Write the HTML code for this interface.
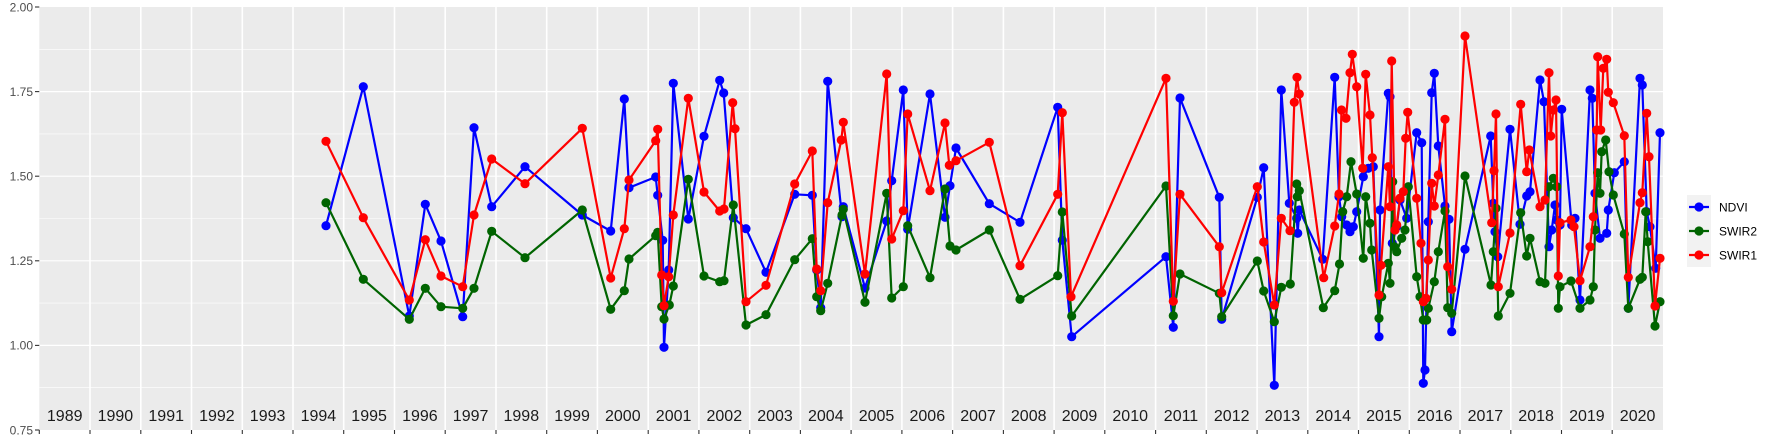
<!DOCTYPE html>
<html><head><meta charset="utf-8"><style>
html,body{margin:0;padding:0;background:#fff;}
svg{display:block;font-family:"Liberation Sans",sans-serif;}
</style></head><body>
<svg width="1773" height="442" viewBox="0 0 1773 442" xmlns="http://www.w3.org/2000/svg">
<defs>
<marker id="mb" markerUnits="userSpaceOnUse" markerWidth="12" markerHeight="12" refX="6" refY="6"><circle cx="6" cy="6" r="4.6" fill="#0000ff"/></marker>
<marker id="mg" markerUnits="userSpaceOnUse" markerWidth="12" markerHeight="12" refX="6" refY="6"><circle cx="6" cy="6" r="4.6" fill="#006400"/></marker>
<marker id="mr" markerUnits="userSpaceOnUse" markerWidth="12" markerHeight="12" refX="6" refY="6"><circle cx="6" cy="6" r="4.6" fill="#ff0000"/></marker>
</defs>
<rect x="39.3" y="7" width="1623.7" height="423" fill="#ebebeb"/>
<g stroke="#fff">
<g stroke-width="0.6">
<line x1="39.3" x2="1663" y1="49.3" y2="49.3"/><line x1="39.3" x2="1663" y1="133.9" y2="133.9"/><line x1="39.3" x2="1663" y1="218.5" y2="218.5"/><line x1="39.3" x2="1663" y1="303.1" y2="303.1"/><line x1="39.3" x2="1663" y1="387.7" y2="387.7"/>
</g>
<g stroke-width="1.2">
<line x1="39.3" x2="1663" y1="91.6" y2="91.6"/><line x1="39.3" x2="1663" y1="176.2" y2="176.2"/><line x1="39.3" x2="1663" y1="260.8" y2="260.8"/><line x1="39.3" x2="1663" y1="345.4" y2="345.4"/>
</g>
<g id="vl" stroke-width="1.6"></g>
</g>
<g stroke="#fff" stroke-width="1.6">
<line x1="90.0" x2="90.0" y1="7" y2="430"/><line x1="140.8" x2="140.8" y1="7" y2="430"/><line x1="191.5" x2="191.5" y1="7" y2="430"/><line x1="242.3" x2="242.3" y1="7" y2="430"/><line x1="293.0" x2="293.0" y1="7" y2="430"/><line x1="343.7" x2="343.7" y1="7" y2="430"/><line x1="394.5" x2="394.5" y1="7" y2="430"/><line x1="445.2" x2="445.2" y1="7" y2="430"/><line x1="496.0" x2="496.0" y1="7" y2="430"/><line x1="546.7" x2="546.7" y1="7" y2="430"/><line x1="597.4" x2="597.4" y1="7" y2="430"/><line x1="648.2" x2="648.2" y1="7" y2="430"/><line x1="698.9" x2="698.9" y1="7" y2="430"/><line x1="749.7" x2="749.7" y1="7" y2="430"/><line x1="800.4" x2="800.4" y1="7" y2="430"/><line x1="851.1" x2="851.1" y1="7" y2="430"/><line x1="901.9" x2="901.9" y1="7" y2="430"/><line x1="952.6" x2="952.6" y1="7" y2="430"/><line x1="1003.4" x2="1003.4" y1="7" y2="430"/><line x1="1054.1" x2="1054.1" y1="7" y2="430"/><line x1="1104.8" x2="1104.8" y1="7" y2="430"/><line x1="1155.6" x2="1155.6" y1="7" y2="430"/><line x1="1206.3" x2="1206.3" y1="7" y2="430"/><line x1="1257.1" x2="1257.1" y1="7" y2="430"/><line x1="1307.8" x2="1307.8" y1="7" y2="430"/><line x1="1358.5" x2="1358.5" y1="7" y2="430"/><line x1="1409.3" x2="1409.3" y1="7" y2="430"/><line x1="1460.0" x2="1460.0" y1="7" y2="430"/><line x1="1510.8" x2="1510.8" y1="7" y2="430"/><line x1="1561.5" x2="1561.5" y1="7" y2="430"/><line x1="1612.2" x2="1612.2" y1="7" y2="430"/>
</g>
<g stroke="#333" stroke-width="1.1">
<line x1="35" x2="39.3" y1="7" y2="7"/><line x1="35" x2="39.3" y1="91.6" y2="91.6"/><line x1="35" x2="39.3" y1="176.2" y2="176.2"/><line x1="35" x2="39.3" y1="260.8" y2="260.8"/><line x1="35" x2="39.3" y1="345.4" y2="345.4"/><line x1="35" x2="39.3" y1="430" y2="430"/>
<line x1="39.3" x2="39.3" y1="430" y2="434"/><line x1="90" x2="90" y1="430" y2="434"/><line x1="140.8" x2="140.8" y1="430" y2="434"/><line x1="191.5" x2="191.5" y1="430" y2="434"/><line x1="242.3" x2="242.3" y1="430" y2="434"/><line x1="293" x2="293" y1="430" y2="434"/><line x1="343.7" x2="343.7" y1="430" y2="434"/><line x1="394.5" x2="394.5" y1="430" y2="434"/><line x1="445.2" x2="445.2" y1="430" y2="434"/><line x1="496" x2="496" y1="430" y2="434"/><line x1="546.7" x2="546.7" y1="430" y2="434"/><line x1="597.4" x2="597.4" y1="430" y2="434"/><line x1="648.2" x2="648.2" y1="430" y2="434"/><line x1="698.9" x2="698.9" y1="430" y2="434"/><line x1="749.7" x2="749.7" y1="430" y2="434"/><line x1="800.4" x2="800.4" y1="430" y2="434"/><line x1="851.1" x2="851.1" y1="430" y2="434"/><line x1="901.9" x2="901.9" y1="430" y2="434"/><line x1="952.6" x2="952.6" y1="430" y2="434"/><line x1="1003.4" x2="1003.4" y1="430" y2="434"/><line x1="1054.1" x2="1054.1" y1="430" y2="434"/><line x1="1104.8" x2="1104.8" y1="430" y2="434"/><line x1="1155.6" x2="1155.6" y1="430" y2="434"/><line x1="1206.3" x2="1206.3" y1="430" y2="434"/><line x1="1257.1" x2="1257.1" y1="430" y2="434"/><line x1="1307.8" x2="1307.8" y1="430" y2="434"/><line x1="1358.5" x2="1358.5" y1="430" y2="434"/><line x1="1409.3" x2="1409.3" y1="430" y2="434"/><line x1="1460" x2="1460" y1="430" y2="434"/><line x1="1510.8" x2="1510.8" y1="430" y2="434"/><line x1="1561.5" x2="1561.5" y1="430" y2="434"/><line x1="1612.2" x2="1612.2" y1="430" y2="434"/>
</g>
<g font-size="12" fill="#4d4d4d" text-anchor="end">
<text x="33" y="11.3">2.00</text><text x="33" y="95.9">1.75</text><text x="33" y="180.5">1.50</text><text x="33" y="265.1">1.25</text><text x="33" y="349.7">1.00</text><text x="33" y="434.3">0.75</text>
</g>
<g font-size="16" fill="#1a1a1a" text-anchor="middle">
<text x="64.7" y="421">1989</text><text x="115.4" y="421">1990</text><text x="166.2" y="421">1991</text><text x="216.9" y="421">1992</text><text x="267.6" y="421">1993</text><text x="318.4" y="421">1994</text><text x="369.1" y="421">1995</text><text x="419.9" y="421">1996</text><text x="470.6" y="421">1997</text><text x="521.3" y="421">1998</text><text x="572.1" y="421">1999</text><text x="622.8" y="421">2000</text><text x="673.6" y="421">2001</text><text x="724.3" y="421">2002</text><text x="775" y="421">2003</text><text x="825.8" y="421">2004</text><text x="876.5" y="421">2005</text><text x="927.3" y="421">2006</text><text x="978" y="421">2007</text><text x="1028.7" y="421">2008</text><text x="1079.5" y="421">2009</text><text x="1130.2" y="421">2010</text><text x="1181" y="421">2011</text><text x="1231.7" y="421">2012</text><text x="1282.4" y="421">2013</text><text x="1333.2" y="421">2014</text><text x="1383.9" y="421">2015</text><text x="1434.7" y="421">2016</text><text x="1485.4" y="421">2017</text><text x="1536.1" y="421">2018</text><text x="1586.9" y="421">2019</text><text x="1637.6" y="421">2020</text>
</g>
<g fill="none" stroke-width="2.2" stroke-linejoin="round">
<polyline stroke="#0000ff" marker-start="url(#mb)" marker-mid="url(#mb)" marker-end="url(#mb)" points="326,225.7 363.3,86.7 409.3,316 425.3,204.3 441,241 462.7,316.7 474,127.7 491.7,206.7 525,166.7 582.3,215 610.7,231 624.3,99 629,187.7 655.7,177 657.7,195.3 662.7,240.3 664,347.3 668.7,270 673.3,83.3 688.3,219 704,136.3 719.7,80.3 723.7,93 733.3,217.7 746,228.7 766,272.3 794.7,194.3 812.3,195.3 816.7,270 820.7,307.7 827.7,81.3 842,216.7 843.3,206.7 865,288 886.7,221 891.7,180.7 903.3,90 907.7,229.3 930,94 945,217.3 950,185.7 956,148 989.3,203.7 1020,222.3 1057.7,107.3 1062.3,240.3 1071.7,336.7 1166,256.7 1173.3,327.3 1180,98 1219.3,197.3 1221.7,319.3 1257.3,197.3 1263.7,167.7 1274.3,385.3 1281.3,90 1289.3,203.3 1296.7,218.3 1297.7,233.3 1299.3,210 1322.7,259.3 1334.7,77.3 1339,196.7 1341.7,216.7 1346.7,225 1350,231.7 1353.3,226.7 1356.7,211.7 1363.3,176.7 1368.3,168.3 1373.3,166.7 1379,336.7 1380,210 1388.3,93.3 1390,96.7 1392.3,243.3 1396.7,226.7 1400,200 1406.7,218.3 1416.7,132.7 1421.7,142.7 1423.3,383.3 1425,370 1428.3,221.7 1431.7,92.7 1434.3,73.3 1438.3,146 1445,206 1449,219.3 1451.7,331.7 1465,249.3 1490.7,136 1493.3,203.3 1495,231.7 1497.7,256.7 1510,129.3 1520,224.3 1526.7,196 1530,191.7 1540,80 1544,101.7 1549,246.7 1551.7,230 1555,205 1556.7,220 1560,225 1561.7,109.3 1571.7,225 1575,218.3 1580,300 1590,90 1592.3,98.3 1595,193.3 1600,238.3 1606.7,233.3 1608.3,210 1614.3,172.7 1624.3,161.7 1628.3,308.3 1640,78.3 1642.3,85 1646.7,211.7 1650,226.7 1655.7,268.3 1660,132.7"/>
<polyline stroke="#006400" marker-start="url(#mg)" marker-mid="url(#mg)" marker-end="url(#mg)" points="326,202.7 363.3,279.3 409.3,319.3 425.3,288.3 441,306.7 462.7,308.3 474,288.3 491.7,231.3 525,257.7 582.3,210 610.7,309.3 624.3,290.7 629,259 655.7,235.7 657.7,232.3 661.7,306.7 664,319 669.3,305 673.3,286 688.3,179.3 704,276 719.7,281.7 724,280.7 733.3,205 746,325 766,314.7 794.7,259.7 812.3,238.7 816.7,296.7 820.7,310.7 827.7,283.3 842,215 843.3,209.3 865,302.3 886.7,193.3 891.7,298 903.3,286.7 907.7,225.7 930,277.7 945,189 950,246 956,250 989.3,230 1020,299.3 1057.7,275.7 1062.3,212 1071.7,316 1166,186 1173.3,315.7 1180,274 1219.3,293.3 1221.7,316.7 1257.3,261 1263.7,291 1274.3,321.7 1281.3,287.3 1290.3,284 1296.7,184 1297.3,196.7 1299.3,190.7 1323.3,307.7 1334.7,290.7 1339.5,264 1342.7,211.7 1346.7,196.7 1351,161.7 1356.7,194 1363.3,258.3 1365.7,196.7 1370,223.3 1371.7,250 1379,318.3 1381.7,296.7 1388.3,263.3 1390,283.3 1392.7,181.7 1394.3,246.7 1396.7,251.7 1401.7,238.3 1405,230 1408.3,186.7 1416.7,276.7 1420,296.7 1423.3,320 1426.7,320 1428.3,308.3 1434.3,281.7 1438.3,251.7 1445,211 1447.7,307.7 1451.7,313.3 1465,176 1491,285 1493.3,251.7 1496,208.3 1498.3,316 1510,293.3 1520.7,212.7 1526.7,256 1530,238.3 1540,281.7 1545,283.3 1549,186.7 1553.3,178.3 1556.7,186.7 1558.3,308.3 1560,286.7 1571,281 1580,308.3 1590,300 1593.3,286.7 1595,230 1597.7,172.7 1600,193.3 1601.7,151.7 1605.7,140 1609,171.7 1613.3,195 1624.3,234 1628.3,308.3 1640,279.3 1642.3,277.3 1645.7,211.7 1647.7,241.7 1655,326 1660,301.7"/>
<polyline stroke="#ff0000" marker-start="url(#mr)" marker-mid="url(#mr)" marker-end="url(#mr)" points="326,141.3 363.3,217.7 409.3,300 425.3,239.7 441,276 462.7,286.7 474,215 491.7,159 525,183.7 582.3,128.3 610.7,278 624.3,228.7 629,180 655.7,140.7 657.7,129.3 661.7,275 664,305.7 668.7,276.7 673.3,215 688.3,98.3 704,192 719.7,211 724,209 732.7,102.7 735,128.7 746,301.7 766,285.3 794.7,184 812.3,151 816.7,269 820.7,290.7 827.7,202.7 841.3,140 843.3,122.3 865,274 886.7,74 891.7,239 903.3,210.7 907.7,114 930,190.7 945,123 949.3,165.3 956,160.7 989.3,142.3 1020,265.7 1057.7,194.3 1062.3,112.7 1071,296.7 1166,78.3 1173.3,301.3 1180,194.3 1219.3,246.7 1221.7,292.7 1257.3,186.7 1263.7,242 1274.3,305 1281.3,218.3 1290,230.7 1294.3,102.3 1297,77.3 1299.3,94 1323.7,277.7 1334.7,226 1339,194 1341.5,110 1346,118.3 1350,72.7 1352.3,54.3 1356.7,86.7 1362.7,168.3 1365.7,74.3 1370,115 1372.3,157.7 1379,295 1381,265.3 1388.3,166.7 1390,206.7 1391.7,61 1395,230 1396.7,225 1400,198.3 1403.3,191.7 1405.7,138.3 1407.7,112.3 1416.7,198.3 1421,243.3 1423.3,301.7 1426,298.3 1428.3,260 1431.7,183.3 1434.3,206 1438.3,175 1445,119.3 1447.7,266.7 1451.7,289.3 1465,36 1491.7,222.7 1494,170.7 1496,114 1498.3,286.7 1510,233 1520.7,104.3 1526.7,171.7 1529.3,150 1540,206.7 1545,200 1549,72.7 1550.7,136 1553.3,110 1556,100 1558.3,276 1560,222.7 1571,220 1574,226.7 1580,280.7 1590,246.7 1593.3,216.7 1596.7,130 1597.7,56.7 1600.7,130 1603.3,68.3 1606.7,59.3 1608.3,92.3 1613.3,102.7 1624.3,135.7 1628.3,277.3 1640,202.7 1642.3,192.7 1646.7,113.3 1649,156.7 1655,306 1660,258.3"/>
</g>
<rect x="1687" y="195" width="24" height="72" fill="#f2f2f2"/>
<g stroke-width="2.2">
<line x1="1689" x2="1709" y1="207" y2="207" stroke="#0000ff"/><circle cx="1699" cy="207" r="4.6" fill="#0000ff"/>
<line x1="1689" x2="1709" y1="231" y2="231" stroke="#006400"/><circle cx="1699" cy="231" r="4.6" fill="#006400"/>
<line x1="1689" x2="1709" y1="255" y2="255" stroke="#ff0000"/><circle cx="1699" cy="255" r="4.6" fill="#ff0000"/>
</g>
<g font-size="12" fill="#000">
<text x="1719" y="211.3">NDVI</text><text x="1719" y="235.3">SWIR2</text><text x="1719" y="259.3">SWIR1</text>
</g>
</svg>
</body></html>
